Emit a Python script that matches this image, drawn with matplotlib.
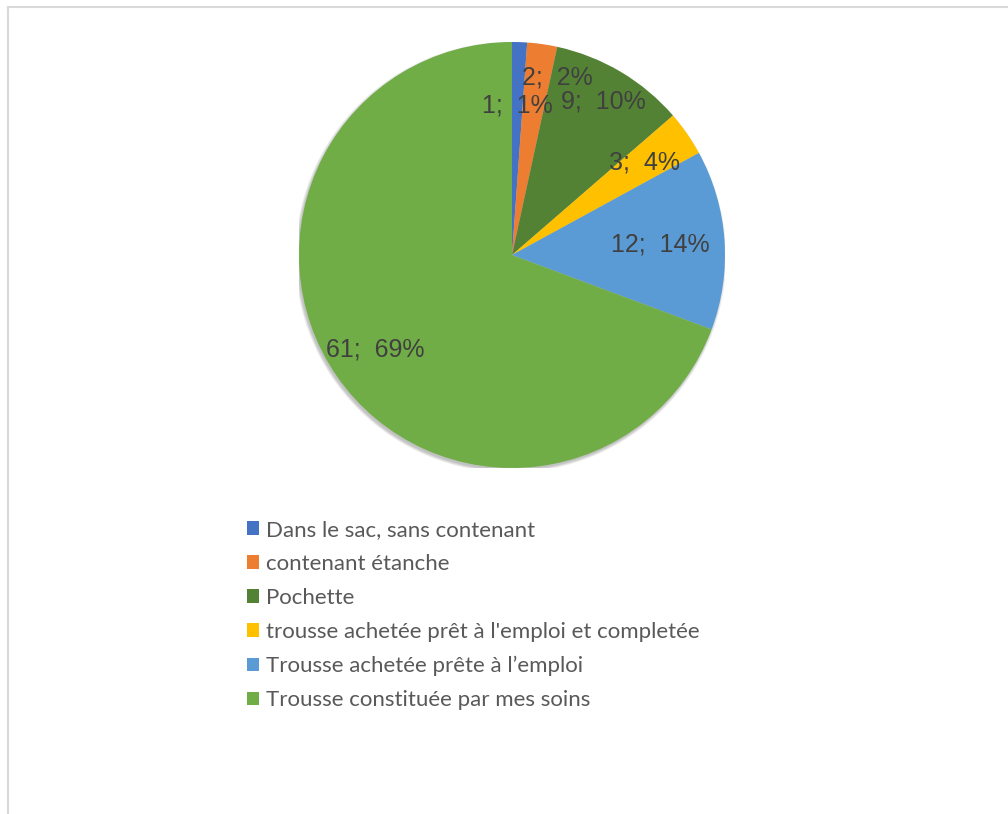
import numpy as np
import matplotlib.pyplot as plt
from matplotlib.lines import Line2D
from matplotlib.patches import Circle, Patch

categories = ['Dans le sac, sans contenant',
              'contenant étanche',
              'Pochette',
              "trousse achetée prêt à l'emploi et completée",
              'Trousse achetée prête à l\u2019emploi',
              'Trousse constituée par mes soins']
counts = [1, 2, 9, 3, 12, 61]
pct_labels = ['1%', '2%', '10%', '4%', '14%', '69%']

colors = ['#4472C4', '#ED7D31', '#548235', '#FFC000', '#5B9BD5', '#70AD47']
# where each data label sits, as fraction of radius and angle nudge (deg)
lab_r = [0.70, 0.86, 0.84, 0.76, 0.70, 0.78]
lab_da = [0, -6, 0, 0, 0, 0]

W, H = 1008, 814
fig = plt.figure(figsize=(W / 100, H / 100), dpi=100)

cx, cy, R = 512, 255, 213
ax = fig.add_axes([(cx - R) / W, 1 - (cy + R) / H, 2 * R / W, 2 * R / H])

# soft shadow behind the pie
for k in range(5):
    ax.add_patch(Circle((-0.006, -0.010), 1.0 + 0.003 * k, color='black',
                        alpha=0.05, zorder=0, lw=0))

wedges, _ = ax.pie(counts, colors=colors, startangle=90, counterclock=False,
                   radius=1, wedgeprops=dict(linewidth=0, zorder=2))
ax.set_xlim(-1, 1)
ax.set_ylim(-1, 1)
ax.set_aspect('equal')
ax.axis('off')

for w, n, p, r, da in zip(wedges, counts, pct_labels, lab_r, lab_da):
    ang = np.deg2rad((w.theta1 + w.theta2) / 2 + da)
    ax.text(r * np.cos(ang), r * np.sin(ang), f'{n};  {p}', ha='center', va='center',
            fontsize=18, color='#404040', family='Liberation Sans', zorder=5)

handles = [Patch(facecolor=c, edgecolor='none') for c in colors]
fig.legend(handles, categories, loc='upper left', bbox_to_anchor=(247 / W, 1 - 520 / H),
           frameon=False, prop={'family': 'Lato', 'size': 16},
           handlelength=0.55, handleheight=0.55, handletextpad=0.3,
           labelspacing=0.63, borderpad=0, borderaxespad=0, labelcolor='#595959')

# chart area border (only top and left visible)
fig.add_artist(Line2D([8 / W, 1], [1 - 7 / H, 1 - 7 / H], color='#D9D9D9', lw=1.5))
fig.add_artist(Line2D([8 / W, 8 / W], [0, 1 - 7 / H], color='#D9D9D9', lw=1.5))

fig.savefig('out.png', dpi=100)
